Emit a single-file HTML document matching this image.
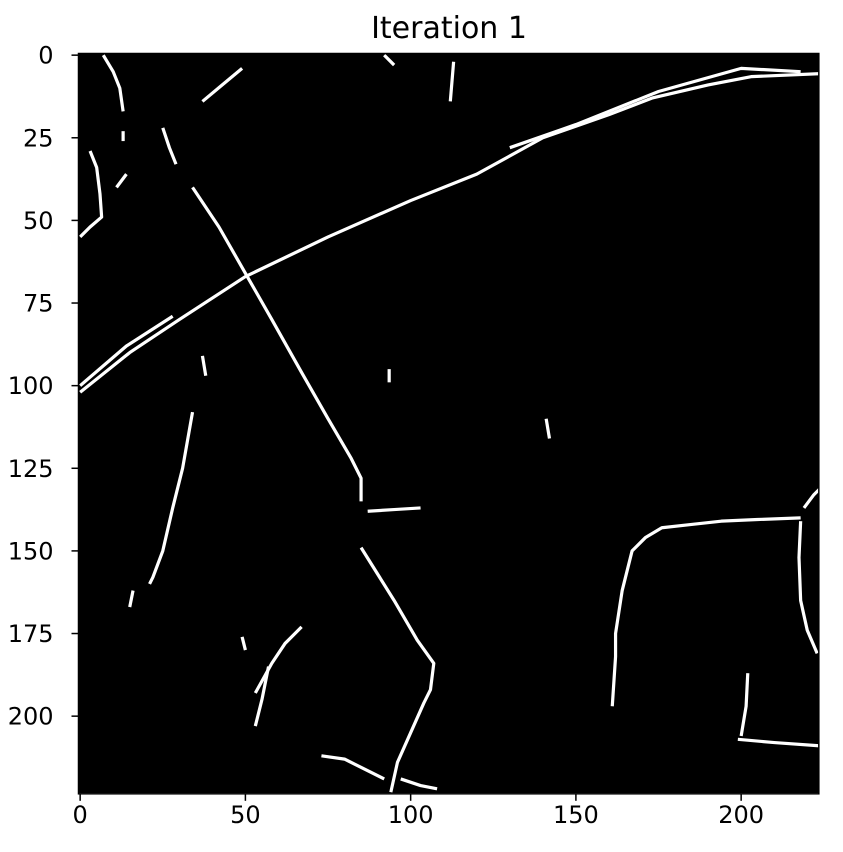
<!DOCTYPE html>
<html><head><meta charset="utf-8"><style>
body{margin:0;background:#fff;font-family:"Liberation Sans","DejaVu Sans",sans-serif}
svg text{font-family:"DejaVu Sans","Liberation Sans",sans-serif}
</style></head><body>
<svg id="chart" width="843" height="847" xmlns="http://www.w3.org/2000/svg">
<text x="449" y="38" font-size="30" text-anchor="middle">Iteration 1</text>
<rect x="78.5" y="53.5" width="741" height="739.5" fill="#000"/>
<g id="edges"></g>
<g id="axes"></g>
</svg>
<script>
const xTicks=[0,50,100,150,200];
const yTicks=[0,25,50,75,100,125,150,175,200];
const imgW=224, imgH=224;
const edgeSegments=[
 [[0,102],[15,90],[30,80],[50,67],[75,55],[100,44],[120,36],[140,25],[160,18],[173,13],[190,9],[203,6.5],[224,5.6]],
 [[0,100],[14,88],[28,79]],
 [[130,28],[150,21],[175,11],[200,4],[218,5]],
 [[34,40],[42,52],[50,66],[58,80],[67,96],[75,110],[82,122],[85,128],[85,135]],
 [[87,138],[95,137.5],[103,137]],
 [[85,149],[95,165],[102,177],[107,184],[106,192],[104,196],[100,205],[96,214],[94,223]],
 [[73,212],[80,213],[88,217],[92,219]],
 [[97,219],[103,221],[108,222]],
 [[161,197],[162,182],[162,175],[164,162],[167,150],[171,146],[176,143],[185,142],[194,141],[205,140.5],[218,140]],
 [[218,141],[217.5,152],[218,165],[220,174],[223,181]],
 [[219,137],[222,133],[224,131]],
 [[202,187],[201.5,197],[200,206]],
 [[199,207],[210,208],[224,209]],
 [[7,0],[10,5],[12,10],[13,17]],
 [[3,29],[5,34],[6,42],[6.5,49],[3,52],[0,55]],
 [[34,108],[31,125],[28,137],[25,150],[22,158],[21,160]],
 [[16,162],[15,167]],
 [[37,91],[38,97]],
 [[53,193],[58,184],[62,178],[67,173]],
 [[53,203],[55,195],[57,185]],
 [[25,22],[27,28],[29,33]],
 [[37,14],[43,9],[49,4]],
 [[113,2],[112.5,8],[112,14]],
 [[92,0],[95,3]],
 [[93.5,95],[93.5,99]],
 [[141,110],[142,116]],
 [[49,176],[50,180]],
 [[11,40],[14,36]],
 [[13,23],[13,26]]
];
const X0=78.5,Y0=53.5,S=3.305;
const sx=v=>X0+(v+0.5)*S, sy=v=>Y0+(v+0.5)*S;
const g=document.getElementById('edges');
const NS='http://www.w3.org/2000/svg';
edgeSegments.forEach((seg,i)=>{
 const p=document.createElementNS(NS,'polyline');
 p.setAttribute('points',seg.map(q=>sx(q[0])+','+sy(q[1])).join(' '));
 p.setAttribute('fill','none');p.setAttribute('stroke','#fff');p.setAttribute('stroke-width','3.2');
 p.setAttribute('stroke-linejoin','round');
 
 
 g.appendChild(p);
});
const a=document.getElementById('axes');
const R=X0+imgW*S, B=Y0+imgH*S;
function add(tag,attrs,txt){const e=document.createElementNS(NS,tag);for(const k in attrs)e.setAttribute(k,attrs[k]);if(txt!==undefined)e.textContent=txt;a.appendChild(e);return e;}
add('rect',{x:X0,y:Y0,width:R-X0,height:B-Y0,fill:'none',stroke:'#000','stroke-width':1.5});
xTicks.forEach(t=>{
 const x=sx(t);
 const l=add('line',{x1:x,x2:x,y1:B,y2:B+7,stroke:'#000','stroke-width':1.5});
 
 
 const tx=add('text',{x:x,y:B+29,'font-size':24,'text-anchor':'middle'},t);
 
 
});
yTicks.forEach(t=>{
 const y=sy(t);
 const l=add('line',{x1:X0-7,x2:X0,y1:y,y2:y,stroke:'#000','stroke-width':1.5});
 
 
 const tx=add('text',{x:X0-25,y:y+8.5,'font-size':24,'text-anchor':'end'},t);
 
 
});
</script>
</body></html>
